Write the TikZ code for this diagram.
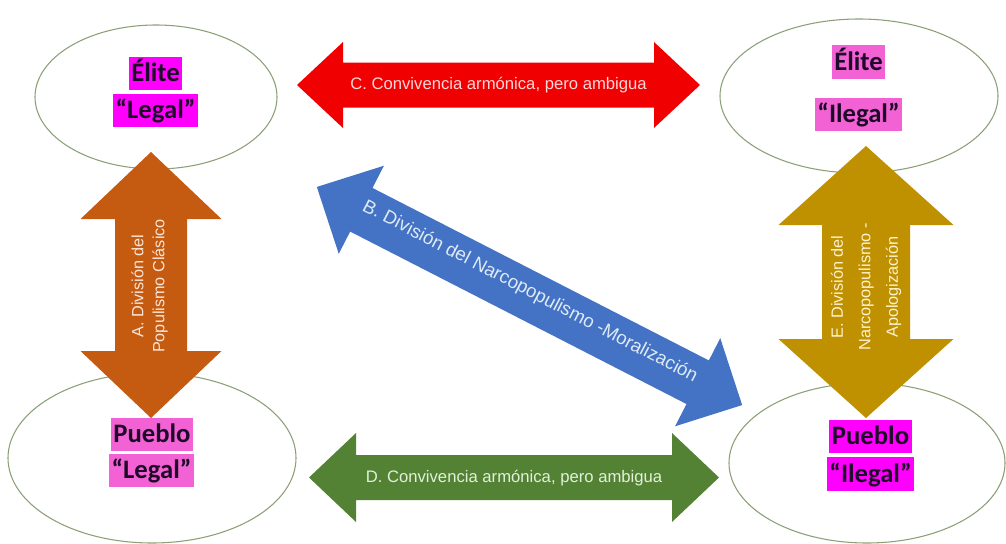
\documentclass[tikz,border=0pt]{standalone}
\usepackage{fontspec}
\setmainfont{Liberation Sans}
\newfontfamily\carlito{Carlito}
\usetikzlibrary{shapes.geometric}
\definecolor{ellline}{RGB}{140,160,120}
\definecolor{hlmag}{RGB}{255,0,255}
\definecolor{hlpink}{RGB}{242,98,212}
\definecolor{lbltext}{RGB}{30,10,40}
\definecolor{redA}{RGB}{240,0,0}
\definecolor{greenD}{RGB}{84,130,53}
\definecolor{orangeA}{RGB}{197,90,17}
\definecolor{goldE}{RGB}{191,144,0}
\definecolor{blueB}{RGB}{68,114,196}
\newcommand{\dblarrow}[7]{%
  \fill[#7, shift={#1}, rotate=#2]
    (-#3/2,0) -- (-#3/2+#6, #5/2) -- (-#3/2+#6, #4/2) -- (#3/2-#6, #4/2)
    -- (#3/2-#6, #5/2) -- (#3/2,0) -- (#3/2-#6, -#5/2) -- (#3/2-#6, -#4/2)
    -- (-#3/2+#6, -#4/2) -- (-#3/2+#6, -#5/2) -- cycle;}
\tikzset{
  oval/.style={ellipse, draw=ellline, line width=0.8pt, fill=white, inner sep=0pt},
  hl/.style={font=\carlito\bfseries\fontsize{20}{24}\selectfont, text=lbltext,
    inner xsep=2pt, inner ysep=1.5pt, text height=17pt, text depth=5pt},
  arrowtext/.style={font=\fontsize{12.5}{15}\selectfont, inner sep=0pt, align=center}
}
\begin{document}
\begin{tikzpicture}[x=0.75pt, y=-0.75pt]
\useasboundingbox (0,0) rectangle (1006,543);
% ellipses
\node[oval, minimum width=181.5pt, minimum height=108pt] (el) at (156,97) {};
\node[oval, minimum width=208.5pt, minimum height=115.5pt] (ei) at (859,96) {};
\node[oval, minimum width=216pt, minimum height=127.5pt] (pl) at (152,458) {};
\node[oval, minimum width=207pt, minimum height=120pt] (pi) at (867,463) {};
% block arrows
\dblarrow{(498.5,85)}{0}{403}{45}{86}{46}{redA}
\dblarrow{(514,477.5)}{0}{410}{45}{89}{47}{greenD}
\dblarrow{(151,285)}{90}{266}{72}{141}{67}{orangeA}
\dblarrow{(866,282)}{90}{272}{88}{175}{79}{goldE}
\dblarrow{(529.5,296)}{-27.15}{478}{49}{99}{50}{blueB}
% arrow texts
\node[arrowtext, text={rgb,255:red,255;green,215;blue,215}] (tc) at (498.5,85) {C. Convivencia armónica, pero ambigua};
\node[arrowtext, text={rgb,255:red,226;green,240;blue,217}] (td) at (514,478) {D. Convivencia armónica, pero ambigua};
\node[arrowtext, rotate=90, font=\fontsize{12.2}{15.8}\selectfont, text={rgb,255:red,251;green,229;blue,214}] (ta) at (149.5,286) {A. División del\\Populismo Clásico};
\node[arrowtext, rotate=90, font=\fontsize{12.2}{20.6}\selectfont, text={rgb,255:red,255;green,242;blue,204}] (te) at (866,287) {E. División del\\Narcopopulismo -\\Apologización};
\node[arrowtext, rotate=-27.4, font=\fontsize{14}{16}\selectfont, text={rgb,255:red,222;green,235;blue,247}] (tb) at (530,292) {B. División del Narcopopulismo -Moralización};
% labels
\node[hl, fill=hlmag] (l1) at (155.5,73.5) {Élite};
\node[hl, fill=hlmag] (l2) at (155.5,110.5) {“Legal”};
\node[hl, fill=hlpink] (l3) at (858.5,62) {Élite};
\node[hl, fill=hlpink] (l4) at (858.5,114.5) {“Ilegal”};
\node[hl, fill=hlpink] (l5) at (152,434.5) {Pueblo};
\node[hl, fill=hlpink] (l6) at (151.5,470.5) {“Legal”};
\node[hl, fill=hlmag] (l7) at (870.5,436.5) {Pueblo};
\node[hl, fill=hlmag] (l8) at (870.5,474) {“Ilegal”};
\end{tikzpicture}
\end{document}
